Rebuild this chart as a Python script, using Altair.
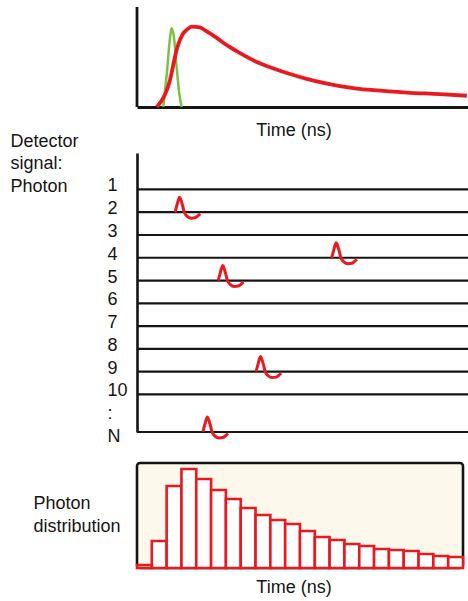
import altair as alt
import pandas as pd

# ---- top panel: excitation pulse (green) and fluorescence decay (red) ----
# time in ns, intensity normalised to the decay maximum
DECAY_T = [0.67, 1.12, 1.34, 1.57, 1.68, 1.85, 2.13, 2.36, 2.70, 3.04, 3.49, 4.05,
           4.62, 5.18, 5.74, 6.31, 6.87, 7.44, 8.00, 9.13, 10.25, 11.16]
DECAY_I = [0.0, 0.34, 0.71, 0.92, 0.96, 1.0, 0.99, 0.94, 0.86, 0.77, 0.67, 0.56,
           0.48, 0.41, 0.35, 0.30, 0.26, 0.23, 0.21, 0.18, 0.16, 0.14]
EXCITE_T = [0.89, 1.01, 1.12, 1.17, 1.25, 1.34, 1.43, 1.51]
EXCITE_I = [0.0, 0.42, 0.87, 0.98, 0.87, 0.50, 0.17, 0.0]

# ---- middle panel: detector signal per excitation cycle ----
ROW_VALUES = [1, 2, 3, 4, 5, 6, 7, 8, 9, 10, 11, 11.65]   # "1".."10", ":", "N"
LINE_ROWS = [1, 2, 3, 4, 5, 6, 7, 8, 9, 10, 11.65]       # rows that carry a trace
# single-photon pulse: time after arrival (ns) and deflection (rows, negative = up)
SPIKE_DT = [0.0, 0.07, 0.15, 0.24, 0.31, 0.41, 0.54, 0.68, 0.78, 0.85]
SPIKE_DY = [0.0, -0.35, -0.66, -0.35, 0.0, 0.18, 0.26, 0.24, 0.15, 0.07]
HIT_ROW = [2, 4, 5, 9, 11.65]
HIT_T = [1.29, 6.59, 2.75, 4.03, 2.23]

# ---- bottom panel: photon arrival-time histogram ----
BIN_WIDTH = 0.5
COUNTS = [3, 27, 82, 99, 89, 78, 69, 60, 53, 48, 44, 37, 31, 28, 24, 22, 19, 18,
          17, 14, 12, 11]

FONT = "Liberation Sans"
INK = "#151515"
RED = "#e8191f"
GREEN = "#7cc146"
CREAM = "#fcf8ec"

T_MAX = 11.2
I_LO, I_HI = -0.187, 1.245

decay_df = pd.DataFrame({"t": DECAY_T, "i": DECAY_I})
excite_df = pd.DataFrame({"t": EXCITE_T, "i": EXCITE_I})
yaxis_df = pd.DataFrame({"t": [0.0], "lo": [0.0], "hi": [I_HI]})

t_top = alt.Scale(domain=[0, T_MAX], nice=False)
i_scale = alt.Scale(domain=[I_LO, I_HI], nice=False)

top = alt.layer(
    alt.Chart(excite_df).mark_line(color=GREEN, strokeWidth=2.5, interpolate="monotone").encode(
        x=alt.X("t:Q", scale=t_top, axis=alt.Axis(
            title="Time (ns)", domain=True, domainColor=INK, domainWidth=2.8,
            ticks=False, labels=False, grid=False, offset=-15,
            titleX=156.5, titleY=28, titleAlign="center", titleBaseline="alphabetic")),
        y=alt.Y("i:Q", scale=i_scale, axis=None),
    ),
    alt.Chart(decay_df).mark_line(color=RED, strokeWidth=3.8, interpolate="monotone").encode(
        x="t:Q", y="i:Q"),
    alt.Chart(yaxis_df).mark_rule(color=INK, strokeWidth=2.8).encode(
        x="t:Q", y="lo:Q", y2="hi:Q"),
).properties(width=331, height=115)

lines_df = pd.DataFrame({"row": LINE_ROWS, "t0": 0.0, "t1": T_MAX})
spike_rows = []
for k, (r, t) in enumerate(zip(HIT_ROW, HIT_T)):
    for dt, dy in zip(SPIKE_DT, SPIKE_DY):
        spike_rows.append({"hit": k, "t": t + dt, "row": r + dy})
spikes_df = pd.DataFrame(spike_rows)

t_mid = alt.Scale(domain=[0, T_MAX], nice=False)
row_scale = alt.Scale(domain=[-0.6, 11.65], reverse=True, nice=False)

mid = alt.layer(
    alt.Chart(lines_df).mark_rule(color=INK, strokeWidth=2.2).encode(
        x=alt.X("t0:Q", scale=t_mid, axis=None),
        x2="t1:Q",
        y=alt.Y("row:Q", scale=row_scale, axis=alt.Axis(
            values=ROW_VALUES, tickCount=40,
            labelExpr="datum.value > 11.5 ? 'N' : datum.value > 10.5 ? ':' : format(datum.value, 'd')",
            labelAlign="left", labelBaseline="alphabetic", labelPadding=30,
            labelOffset={"condition": {"test": "datum.value > 11.5", "value": 9.4}, "value": 1.5},
            labelOverlap=False, labelBound=False,
            ticks=False, tickSize=0, grid=False,
            domain=True, domainColor=INK, domainWidth=2.6,
            title=["Detector", "signal:", "Photon"], titleAngle=0, titleAlign="left",
            titleBaseline="alphabetic", titleX=-127, titleY=-7, titleLineHeight=22.6)),
    ),
    alt.Chart(spikes_df).mark_line(color=RED, strokeWidth=3, interpolate="monotone").encode(
        x="t:Q", y="row:Q", detail="hit:N"),
).properties(width=331, height=279)

bins_df = pd.DataFrame({
    "t0": [k * BIN_WIDTH for k in range(len(COUNTS))],
    "t1": [(k + 1) * BIN_WIDTH for k in range(len(COUNTS))],
    "n": COUNTS,
})

bottom = alt.Chart(bins_df).mark_rect(fill="white", stroke=RED, strokeWidth=2.6).encode(
    x=alt.X("t0:Q", scale=alt.Scale(domain=[0, BIN_WIDTH * len(COUNTS)], nice=False),
            axis=alt.Axis(title="Time (ns)", domain=False, ticks=False, labels=False, grid=False,
                          titleX=156.5, titleY=24, titleAlign="center", titleBaseline="alphabetic")),
    x2="t1:Q",
    y=alt.Y("n:Q", scale=alt.Scale(domain=[0, 105], nice=False),
            axis=alt.Axis(title=["Photon", "distribution"], titleAngle=0, titleAlign="left",
                          titleBaseline="alphabetic", titleX=-104, titleY=45, titleLineHeight=23.5,
                          domain=False, ticks=False, labels=False, grid=False)),
    y2=alt.datum(0),
).properties(width=326, height=105,
             view=alt.ViewBackground(fill=CREAM, stroke=INK, strokeWidth=2.6, cornerRadius=3))

# fixed canvas: the panels start at (137, 7) and the page is 468 x 601
chart = (
    alt.vconcat(top, mid, bottom, spacing=31, bounds="flush")
    .resolve_scale(x="independent", y="independent")
    .properties(autosize=alt.AutoSizeParams(type="none"),
                padding={"left": 137, "top": 7, "right": 331, "bottom": 594},
                background="white")
    .configure(font=FONT)
    .configure_view(strokeWidth=0)
    .configure_axis(labelFont=FONT, titleFont=FONT, labelColor=INK, titleColor=INK,
                    labelFontSize=18, titleFontSize=18, titleFontWeight="normal")
)

chart.save("out.html", embed_options={"renderer": "svg", "actions": False})
